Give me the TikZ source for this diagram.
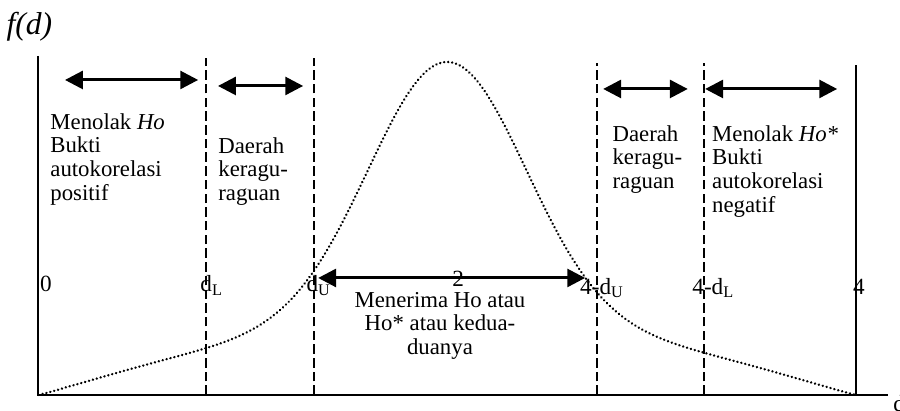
\documentclass[tikz,border=0pt]{standalone}
\usepackage{fontspec}
\setmainfont{Liberation Serif}
\usetikzlibrary{arrows.meta}

\tikzset{
  bnd/.style={line width=1.1pt},
  split/.style={line width=1pt, dash pattern=on 4.5pt off 2pt},
  reach/.style={line width=1.4pt, {Triangle[length=8.5pt,width=8.5pt]}-{Triangle[length=8.5pt,width=8.5pt]}},
  zone/.style={align=left, anchor=north west, inner sep=0pt, font=\fontsize{10.8}{11.2}\selectfont},
  tick/.style={anchor=base west, inner sep=0pt, font=\fontsize{11}{12}\selectfont},
}

\begin{document}
\begin{tikzpicture}
    \useasboundingbox (-0.633,-0.267) rectangle (14.367,6.583);

    % frame and axis
    \draw[bnd] (0,5.65) -- (0,0) -- (14.17,0);
    \draw[bnd] (13.63,0) -- (13.63,5.5);
    \node[anchor=base west, inner sep=0pt, font=\fontsize{15}{16}\selectfont\itshape] (fd) at (-0.53,6.0) {f(d)};
    \node[tick] (dax) at (14.25,-0.28) {d};

    % region borders
    \draw[split] (2.8,0) -- (2.8,5.62);
    \draw[split] (4.6,0) -- (4.6,5.62);
    \draw[split] (9.32,0) -- (9.32,5.53);
    \draw[split] (11.1,0) -- (11.1,5.53);

    % density of d
    \draw[line width=1.25pt, dash pattern=on 0.01pt off 1.9pt, line cap=round, domain=0.01:13.62, samples=120, smooth]
        plot (\x, {4.35*exp(-((\x-6.82)^2)/3.38) + 1.2*(1-((\x-6.82)/6.82)^2)^1.12});

    % region arrows
    \draw[reach] (0.45,5.25) -- (2.67,5.25);
    \draw[reach] (3.0,5.15) -- (4.42,5.15);
    \draw[reach] (9.42,5.1) -- (10.83,5.1);
    \draw[reach] (11.12,5.1) -- (13.32,5.1);
    \draw[reach] (4.67,1.95) -- (9.12,1.95);

    % region texts
    \node[zone] (rejpos) at (0.2,4.70) {Menolak \textit{Ho}\\Bukti\\autokorelasi\\positif};
    \node[zone] (doubtl) at (3.0,4.30) {Daerah\\keragu-\\raguan};
    \node[zone] (doubtr) at (9.57,4.50) {Daerah\\keragu-\\raguan};
    \node[zone] (rejneg) at (11.23,4.50) {Menolak \textit{Ho*}\\Bukti\\autokorelasi\\negatif};
    \node[zone, align=center, anchor=north] (accept) at (6.7,1.72) {Menerima Ho atau\\Ho* atau kedua-\\duanya};

    % values on the d axis
    \node[tick] (t0) at (0.03,1.72) {0};
    \node[tick] (tdl) at (2.7,1.72) {d\textsubscript{L}};
    \node[tick] (tdu) at (4.47,1.72) {d\textsubscript{U}};
    \node[tick] (t2) at (6.9,1.8) {2};
    \node[tick] (tdu4) at (9.03,1.68) {4-d\textsubscript{U}};
    \node[tick] (tdl4) at (10.9,1.68) {4-d\textsubscript{L}};
    \node[tick] (t4) at (13.58,1.68) {4};
\end{tikzpicture}
\end{document}
